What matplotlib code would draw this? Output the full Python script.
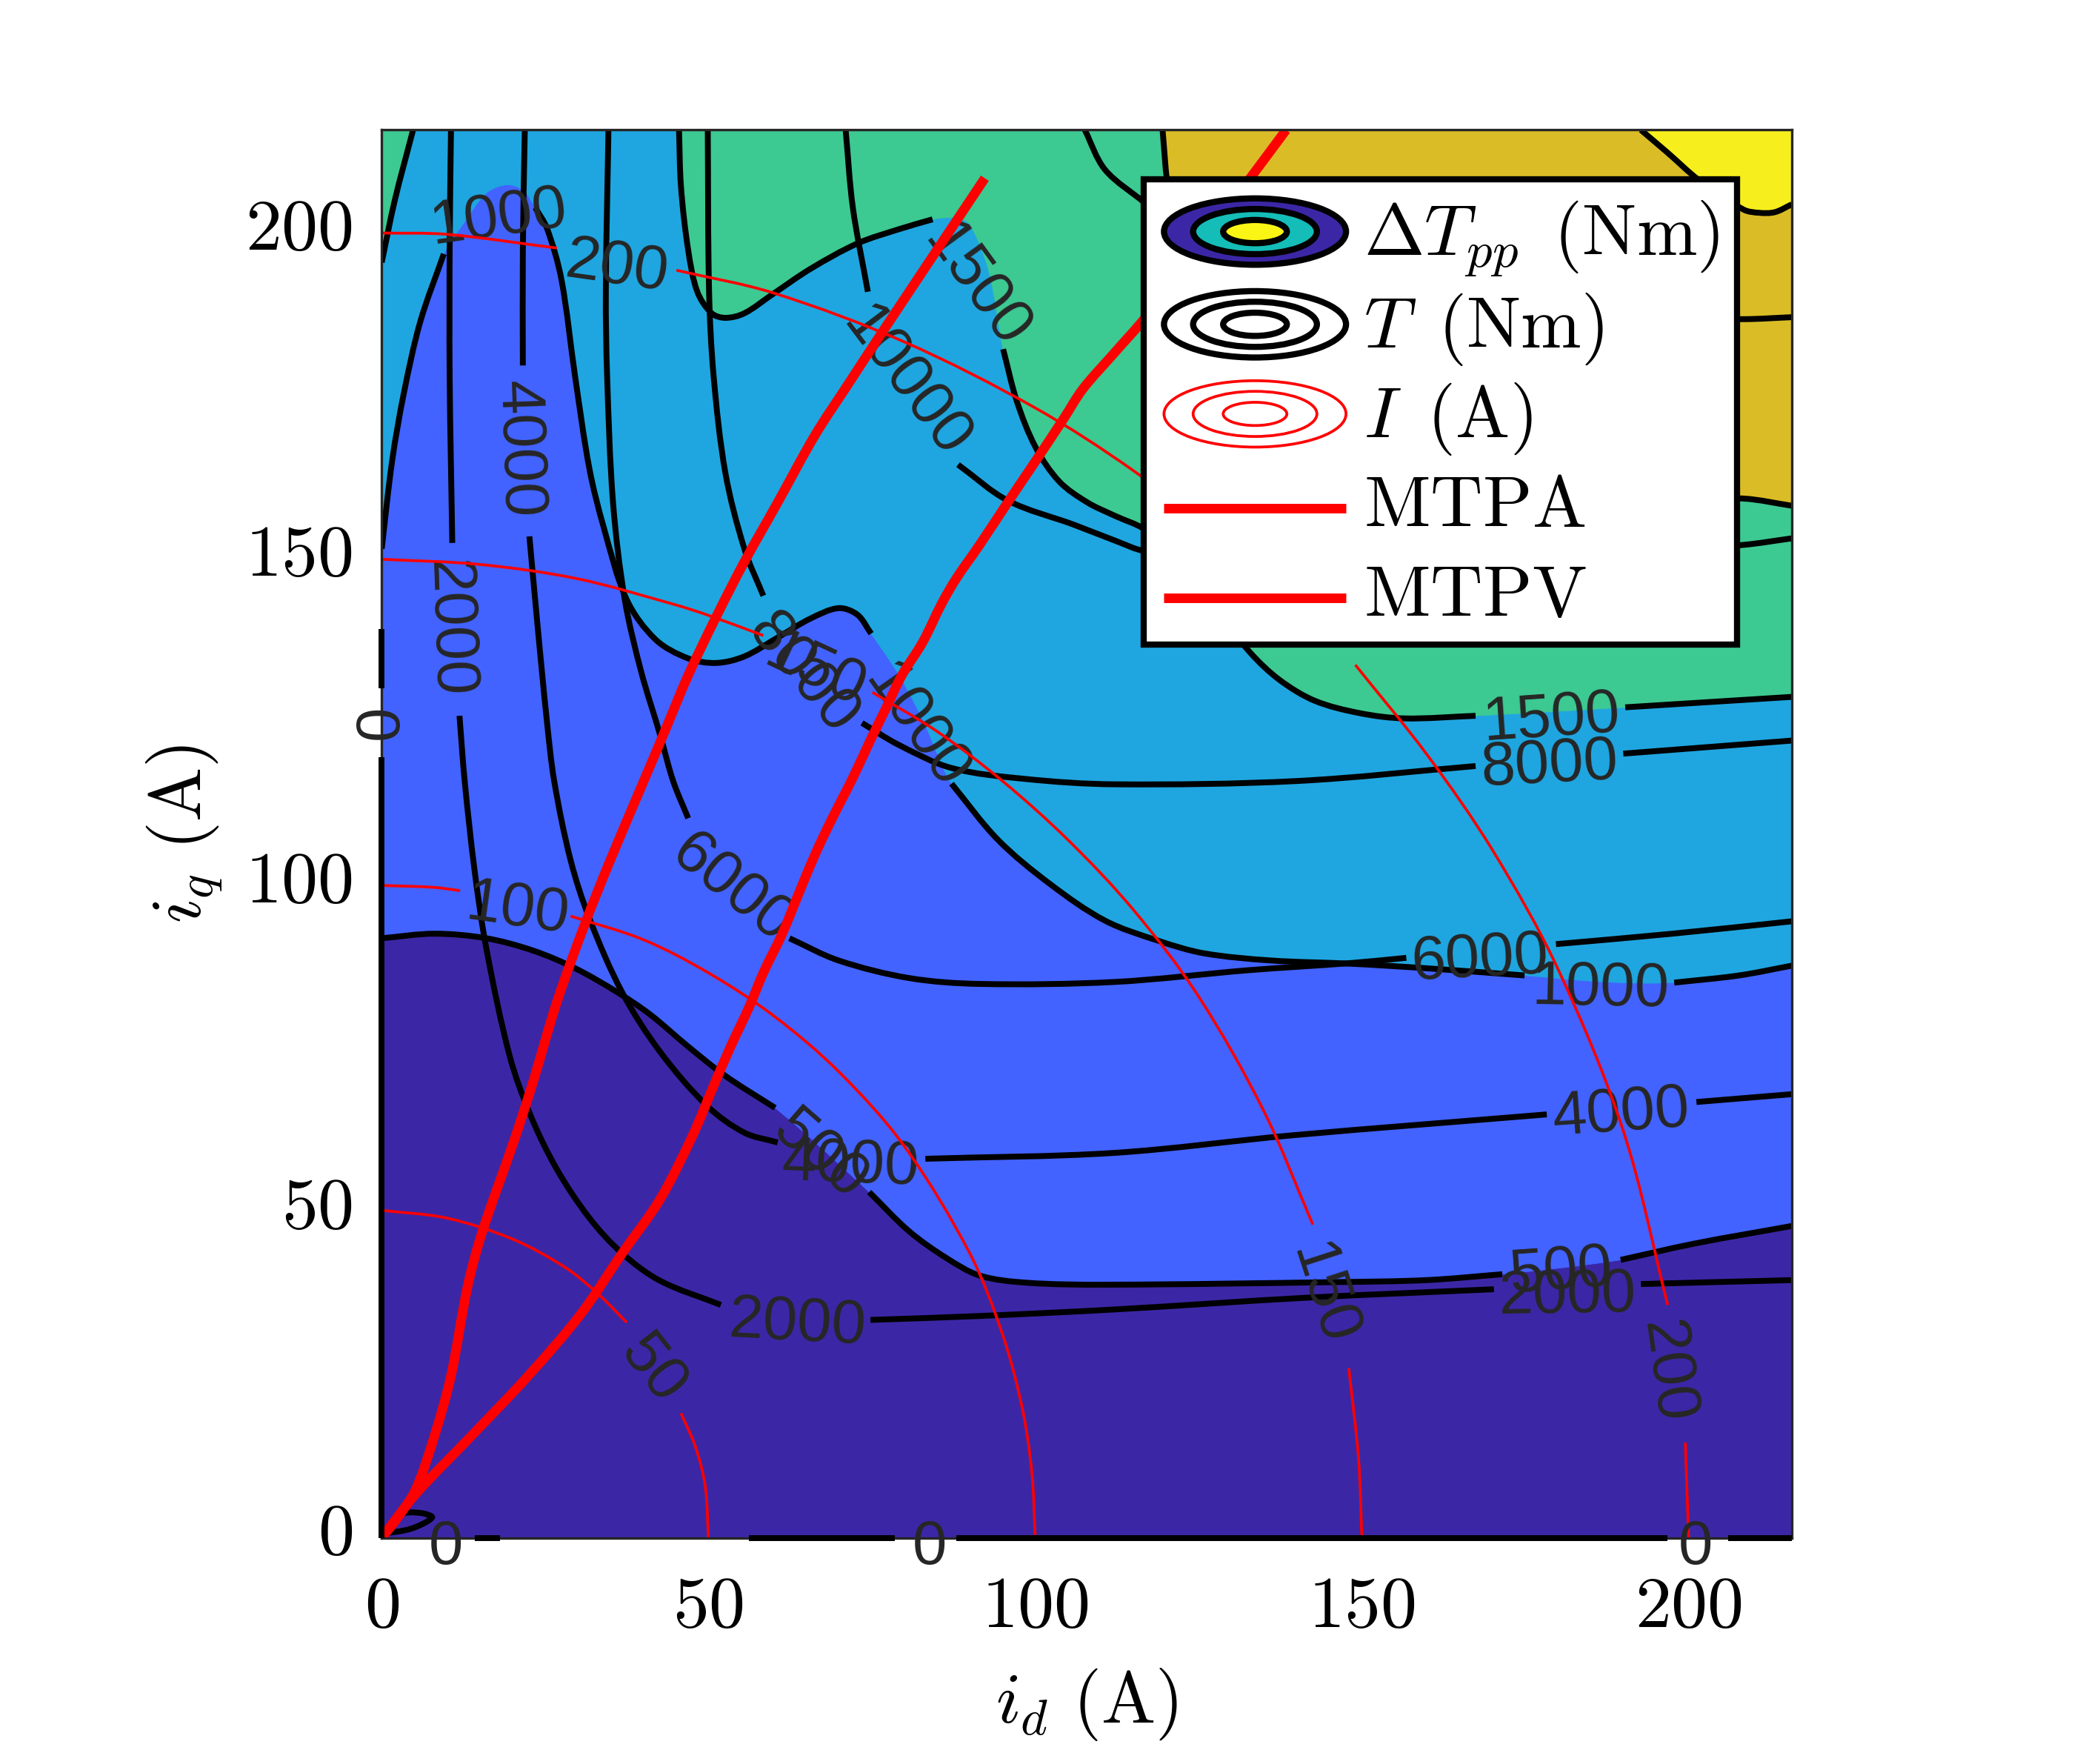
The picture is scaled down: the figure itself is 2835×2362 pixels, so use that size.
#!/usr/bin/env python3
"""Torque ripple map in the id/iq plane, with torque and current contours."""
import numpy as np
import matplotlib
matplotlib.use("Agg")
import matplotlib.pyplot as plt
from matplotlib.legend_handler import HandlerBase
from matplotlib.lines import Line2D
from matplotlib.patches import Ellipse, PathPatch
from matplotlib.path import Path
from matplotlib.transforms import ScaledTranslation

plt.rcParams["mathtext.fontset"] = "cm"

LIM = 215.8
PURPLE, BLUE, SKY, GREEN, GOLD, YELLOW = "#3b27a6", "#4263ff", "#1fa6e0", "#3dc992", "#dabd26", "#f6ef1d"
TEAL = "#14bdb8"
RED = "#ff0000"
INK = "#262626"

# ripple contours, split where the label gap is
dt500_a = [(0, 91.9), (8.1, 92.6), (16, 91.9), (23.2, 90), (29.6, 87.3), (36.1, 83.6), (41.1, 80.2),
           (46.9, 75.3), (52.6, 70.8), (60.2, 65.9)]
dt500_b = [(74.6, 53), (80.7, 47), (86.4, 42.9), (91.5, 40.2), (98.7, 39.1), (110.7, 38.8), (146.3, 39.2),
           (159.9, 39.5), (171.5, 40.4)]
dt500_c = [(189.6, 42.6), (200.9, 45.1), (215.8, 47.8)]

dt1000_a = [(0, 151.6), (1.6, 165.1), (3.4, 175.5), (5.9, 186.4), (9.5, 196.8)]
dt1000_b = [(23.5, 203.9), (25.3, 200.7), (27.5, 192.9), (29.6, 178), (31.8, 163.8), (34, 154.8), (37.5, 143.8),
            (41.9, 137.7), (46.9, 134.8), (51.2, 134.1), (55.5, 135.1), (60.6, 138), (65.6, 140.9),
            (69.9, 142.5), (72.8, 141.5), (74.9, 138.6)]
dt1000_c = [(87.2, 115.6), (94.3, 107), (102.3, 100.2), (110.7, 94.6), (118.9, 91.5), (125.8, 89.6), (136, 88.5),
            (148.3, 88), (159.9, 87.3), (174.9, 86.2)]
dt1000_d = [(197.8, 85.1), (207.7, 86.2), (215.8, 87.7)]
dt1000_top = [(12.4, 201.3), (16, 206.1), (19.2, 207.4), (21.7, 206.5)]
dt1000_mid = [(79.2, 132.2), (83, 125)]
dt1000_end = [(187.2, 85.2)]

dt1500_corner = [(0, 195.5), (2, 205), (4.8, 215.8)]
dt1500_a = [(45.5, 215.8), (45.8, 207.1), (46.9, 197.4), (48.3, 191), (50.5, 187.7), (52.6, 187), (55.5, 187.7),
            (59.8, 190.6), (65.6, 194.5), (72.8, 198.4), (79.2, 200.6), (84.3, 202.1)]
dt1500_b = [(95.1, 182.2), (97.2, 174.2), (100.1, 167.1), (103.7, 161.9), (108, 158.7), (112.1, 156.7),
            (116.9, 154.5), (122, 150), (128, 142), (132.9, 135.7), (137.4, 131.5), (142.8, 128.3),
            (149.7, 126.4), (156.5, 125.6), (167.4, 126)]
dt1500_c = [(190.3, 127.3), (215.8, 128.9)]
dt1500_mid = [(87.9, 202.3), (90, 201.3), (92.9, 194.2)]

dt2000 = [(119.5, 215.8), (120.2, 207.8), (122, 195), (128, 180), (140, 170), (160, 163), (185, 160),
          (208.4, 159.3), (215.8, 158.2)]
dt2500 = [(192.7, 215.8), (196.8, 212.3), (201.6, 208.1), (208.4, 203.6), (210.8, 203.1), (213.2, 203.2),
          (215.8, 204.4)]

# torque contours
t2000_a = [(10.6, 215.8), (10.4, 197.4), (10.4, 178), (10.8, 152.5)]
t2000_b = [(11.9, 126), (12.7, 116), (14.2, 102.4), (16, 90.4), (19.6, 73.8), (22.8, 64.7), (26.8, 56.5),
           (31.8, 49), (36.8, 43.6), (42.6, 39.4), (51.9, 35.7)]
t2000_c = [(74.8, 33.4), (91.5, 34), (112.1, 35), (141.5, 36.8), (170.2, 38.1)]
t2000_d = [(192.7, 38.9), (215.8, 39.5)]

t4000_a = [(21.9, 215.8), (21.6, 197.4), (21.6, 179.7)]
t4000_b = [(22.6, 153.5), (23.9, 139.3), (25.3, 125), (26.4, 116), (28.9, 103.9), (31.8, 94.9), (36.8, 83.6),
           (42.6, 74.5), (49.8, 66.2), (55.5, 62.1), (60.6, 60.6)]
t4000_c = [(83.2, 58.1), (112.1, 59), (139.4, 61.7), (178.3, 64.9)]
t4000_d = [(201.2, 66.8), (215.8, 68)]

t6000_a = [(34.7, 215.8), (34.3, 191), (34.5, 178), (35.4, 158.7), (37.2, 143.8), (39.7, 132.8), (42.6, 123.1),
           (44.6, 116), (46.9, 110.3)]
t6000_b = [(62.4, 91.9), (69.9, 88.5), (80.7, 85.8), (91.5, 84.9), (112.1, 85.2), (132.6, 87), (148.3, 88.1),
           (156.8, 88.9)]
t6000_c = [(179.7, 91), (197.5, 92.6), (215.8, 94.5)]

t8000_a = [(49.9, 215.8), (50.1, 191), (50.8, 178), (52.6, 163.2), (55.5, 151.6), (58.4, 144.4)]
t8000_b = [(73.5, 124.9), (79.2, 121.5), (87.2, 118), (98.7, 116.3), (112.1, 115.5), (140, 116), (167.4, 118.3)]
t8000_c = [(190, 120.2), (215.8, 122.2)]

t10000_a = [(71, 215.8), (72.1, 203.9), (74.4, 191)]
t10000_b = [(88.2, 164.5), (95.8, 159), (105.9, 155.3), (112.1, 152.9), (116.9, 151.2), (140, 148), (170, 149),
            (208.4, 152.2), (215.8, 153.2)]

t12000 = [(107.6, 215.8), (110.7, 209.7), (116.9, 204.5), (125, 197), (140, 190), (170, 187), (208.4, 186.8),
          (215.8, 187.1)]

t_origin = [(0, 0.6), (3, 3.6), (6, 3.8), (7.7, 3.1), (4.5, 1.4), (0, 0.6)]

# current contours
i50_a = [(0, 50.2), (10, 49), (20, 45.8), (28, 41.5), (33, 37.5), (37.5, 33)]
i50_b = [(45.8, 19.1), (48, 14), (49.5, 8), (50, 0)]
i100_a = [(0, 100), (8, 99.7), (12, 99.2)]
i100_b = [(28.9, 95.3), (40, 91.7), (50, 86.6), (60, 80), (70, 71.4), (80, 60), (90, 43.6), (95, 31.2),
          (98, 20), (99.5, 10), (100, 0)]
i150_a = [(0, 150), (15, 149.2), (30, 147), (45, 143), (50, 141.4), (58.4, 138.3)]
i150_b = [(75.1, 129.6), (85, 123.6), (95, 116), (105, 107), (115, 96.3), (125, 83), (135, 65.4), (142.5, 48)]
i150_c = [(148, 26), (149.5, 12), (150, 0)]
i200_a = [(0, 200), (10, 199.8), (26.8, 197.7)]
i200_b = [(45.1, 194.3), (60, 190.8), (80, 183.3), (100, 173.2), (115, 163.6), (130, 152)]
i200_c = [(149, 133.8), (160, 120), (170, 105.4), (180, 87.2), (190, 62.4), (196.8, 35.7)]
i200_d = [(199.5, 14.6), (200, 0)]

mtpa = [(92.3, 208.4), (76.4, 184.5), (71.3, 176.7), (66.3, 169), (60.6, 158.7), (55.5, 149.6), (51.2, 141.2),
        (46.9, 132.2), (43.1, 123.1), (40.1, 116), (34.7, 103.2), (31.1, 94.1), (26.8, 82.1), (23.2, 70),
        (20.3, 61), (15.3, 46.6), (13.1, 38.3), (10.6, 24.8), (8.1, 15.7), (5.2, 7.4), (2.3, 2.9), (0, 0)]
mtpv = [(138.4, 215.8), (132.6, 208), (124, 196.6), (116.9, 187.1), (112.1, 181.6), (107.3, 176.1), (104.4, 171.6),
        (100.1, 165.1), (95.8, 158.7), (91.5, 152.2), (87.9, 147), (85.7, 143.2), (82.8, 137.3), (79.6, 132.2),
        (77.1, 127), (74.9, 122.5), (72.1, 116.5), (68.8, 110), (66.3, 104.7), (63.8, 98.7), (61.3, 92.6),
        (58.4, 86.6), (56.2, 81.3), (53.4, 75.3), (50.8, 69.3), (47.6, 61.7), (42.6, 51.9), (36.8, 43.6),
        (30.4, 34.2), (22.4, 24.8), (13.8, 15.7), (5.2, 6.7), (0, 0)]

# (text, x, y, rotation)
black_labels = [
    ("1000", 17.8, 203.2, 8), ("1000", 82.6, 124.9, -55), ("1000", 186.5, 85.1, -1), ("500", 67.7, 59.4, -41),
    ("500", 180.4, 41.7, 4), ("1500", 91.8, 192.5, -54), ("1500", 179, 126.4, 4),
    ("2000", 11.2, 139.3, -88), ("2000", 63.7, 33.8, -3), ("2000", 181.4, 38, 1),
    ("4000", 21.9, 167, -88), ("4000", 71.7, 58, -2), ("4000", 189.6, 65.9, 4),
    ("6000", 54.2, 100.2, -39), ("6000", 168.1, 89.6, 3),
    ("8000", 65.2, 133.1, -50), ("8000", 178.7, 119.3, 3), ("10000", 81, 177.7, -53),
    ("0", -1, 125, 90), ("0", 9.8, -0.5, 0), ("0", 83.8, -0.5, 0), ("0", 201, -0.5, 0),
]
red_labels = [
    ("200", 36.1, 195.7, -8), ("150", 66.7, 133.8, -25), ("100", 20.9, 97.2, -8), ("50", 42.3, 26.4, -52),
    ("150", 145, 37.6, -72), ("200", 197.6, 25.5, -82), ("200", 139, 144, -48),
]

x_ticks = [0, 50, 100, 150, 200]
y_ticks = [0, 50, 100, 150, 200]


def curve_path(pts):
    # bezier through the read points, so the contours stay round
    p = np.array(pts, dtype=float)
    if len(p) < 3:
        return Path(p)
    seg = np.hypot(*np.diff(p, axis=0).T)
    tan = np.zeros_like(p)
    tan[1:-1] = (p[2:] - p[:-2]) / (seg[:-1] + seg[1:])[:, None]
    tan[0] = (p[1] - p[0]) / seg[0]
    tan[-1] = (p[-1] - p[-2]) / seg[-1]
    verts, codes = [p[0]], [Path.MOVETO]
    for i, s in enumerate(seg):
        verts += [p[i] + tan[i] * s / 3, p[i + 1] - tan[i + 1] * s / 3, p[i + 1]]
        codes += [Path.CURVE4] * 3
    return Path(np.array(verts), codes)


def fill_region(ax, pts, corners, color, z=1):
    cp = curve_path(pts)
    verts = list(cp.vertices) + list(corners) + [corners[-1]]
    codes = list(cp.codes) + [Path.LINETO] * len(corners) + [Path.CLOSEPOLY]
    ax.add_patch(PathPatch(Path(np.array(verts, dtype=float), codes), fc=color, ec=color, lw=0.2, zorder=z))


def stroke(ax, pts, color="black", lw=1.9, z=2):
    ax.add_patch(PathPatch(curve_path(pts), fc="none", ec=color, lw=lw, zorder=z, capstyle="butt"))


# legend handles are inset from the box edge; the frame padding alone is too tight
HANDLE_INSET = 4.0


class RingHandle:
    def __init__(self, faces, edge, lw):
        self.faces, self.edge, self.lw = faces, edge, lw


class HandlerRings(HandlerBase):
    def create_artists(self, legend, orig, xd, yd, w, h, fs, trans):
        out = []
        cx = (w + HANDLE_INSET) / 2 - xd
        for face, k in zip(orig.faces, (1.0, 0.68, 0.35)):
            out.append(Ellipse((cx, 7.6), (w - HANDLE_INSET) * k, 21.5 * k, fc=face, ec=orig.edge, lw=orig.lw,
                               transform=trans))
        return out


class HandlerBar(HandlerBase):
    def create_artists(self, legend, orig, xd, yd, w, h, fs, trans):
        return [Line2D([HANDLE_INSET - xd, w - xd], [6, 6], color=orig.get_color(), lw=orig.get_linewidth(),
                       solid_capstyle="butt", transform=trans)]


fig = plt.figure(figsize=(9.45, 2362 / 300), dpi=300)
ax = fig.add_axes([515.3 / 2835, 1 - 2075.6 / 2362, 1903.7 / 2835, 1900.2 / 2362])
ax.set_xlim(0, LIM)
ax.set_ylim(0, LIM)
ax.set_facecolor(PURPLE)

dt500 = dt500_a + dt500_b + dt500_c
dt1000 = dt1000_a + dt1000_top + dt1000_b + dt1000_mid + dt1000_c + dt1000_end + dt1000_d
dt1500 = dt1500_a + dt1500_mid + dt1500_b + dt1500_c
fill_region(ax, dt500, [(LIM, LIM), (0, LIM)], BLUE)
fill_region(ax, dt1000, [(LIM, LIM), (0, LIM)], SKY)
fill_region(ax, dt1500_corner, [(0, LIM)], GREEN)
fill_region(ax, dt1500, [(LIM, LIM)], GREEN)
fill_region(ax, dt2000, [(LIM, LIM)], GOLD)
fill_region(ax, dt2500, [(LIM, LIM)], YELLOW)

for seg in (dt500_a, dt500_b, dt500_c, dt1000_a, dt1000_b, dt1000_c, dt1000_d, dt1500_corner,
            dt1500_a, dt1500_b, dt1500_c, dt2000, dt2500,
            t2000_a, t2000_b, t2000_c, t2000_d, t4000_a, t4000_b, t4000_c, t4000_d,
            t6000_a, t6000_b, t6000_c, t8000_a, t8000_b, t8000_c, t10000_a, t10000_b, t12000, t_origin):
    stroke(ax, seg)

# zero contours sit right on the axes
for xs, ys in (([0, 0], [0, 119.6]), ([0, 0], [130.2, 139.3]), ([14.2, 18.1], [0, 0]), ([56.2, 78.5], [0, 0]),
               ([87.9, 196.8], [0, 0]), ([206, LIM], [0, 0])):
    ax.plot(xs, ys, color="black", lw=1.9, zorder=7, solid_capstyle="butt", clip_on=False)

for txt, x, y, rot in black_labels:
    ax.text(x, y, txt, family="Liberation Sans", fontsize=20, color=INK, rotation=rot, rotation_mode="anchor",
            ha="center", va="center_baseline", zorder=8 if y <= 0 or x <= 0 else 3, clip_on=False)

for seg in (i50_a, i50_b, i100_a, i100_b, i150_a, i150_b, i150_c, i200_a, i200_b, i200_c, i200_d):
    stroke(ax, seg, RED, 0.9, 4)
for txt, x, y, rot in red_labels:
    ax.text(x, y, txt, family="Liberation Sans", fontsize=20, color=INK, rotation=rot, rotation_mode="anchor",
            ha="center", va="center_baseline", zorder=4, clip_on=False)

stroke(ax, mtpa, RED, 3.1, 5)
stroke(ax, mtpv, RED, 3.1, 5)

ax.set_xticks(x_ticks, [f"${v}$" for v in x_ticks])
ax.set_yticks(y_ticks, [f"${v}$" for v in y_ticks])
ax.tick_params(length=0, labelsize=23.5)
ax.tick_params(axis="x", pad=11)
ax.tick_params(axis="y", pad=9.5)
# y tick digits sit a touch above their grid position
nudge = ScaledTranslation(0, 3.6 / 72, fig.dpi_scale_trans)
for lab in ax.get_yticklabels():
    lab.set_transform(lab.get_transform() + nudge)
ax.set_xlabel(r"$i_d\ \mathrm{(A)}$", fontsize=23.5, labelpad=7.7)
ax.set_ylabel(r"$i_q\ \mathrm{(A)}$", fontsize=23.5, labelpad=6.7)
for s in ax.spines.values():
    s.set_color(INK)
    s.set_linewidth(0.8)
    s.set_zorder(6)

handles = [
    RingHandle([PURPLE, TEAL, "#faf514"], "black", 2.0),
    RingHandle(["white", "white", "white"], "black", 2.0),
    RingHandle(["white", "white", "white"], RED, 0.9),
    Line2D([], [], color=RED, lw=3.1),
    Line2D([], [], color=RED, lw=3.1),
]
labels = [r"$\Delta T_{pp}\ \,\mathrm{(Nm)}$", r"$T\ \,\mathrm{(Nm)}$", r"$I\ \,\mathrm{(A)}$",
          r"$\mathrm{MTPA}$", r"$\mathrm{MTPV}$"]
# mode="expand" fixes the frame width, mathtext drops trailing spaces
leg = ax.legend(handles, labels, handler_map={RingHandle: HandlerRings(), Line2D: HandlerBar()}, loc="upper left",
                bbox_to_anchor=(0.5406, 0.965, 0.4207, 0), mode="expand", borderaxespad=0, borderpad=0.105,
                fontsize=23.5, handlelength=2.68, handleheight=1.5, handletextpad=0.24, labelspacing=0.015,
                fancybox=False, framealpha=1, edgecolor="black")
leg.get_frame().set_linewidth(2)
leg.set_zorder(10)

fig.savefig("out.png", dpi=300, facecolor="white")
